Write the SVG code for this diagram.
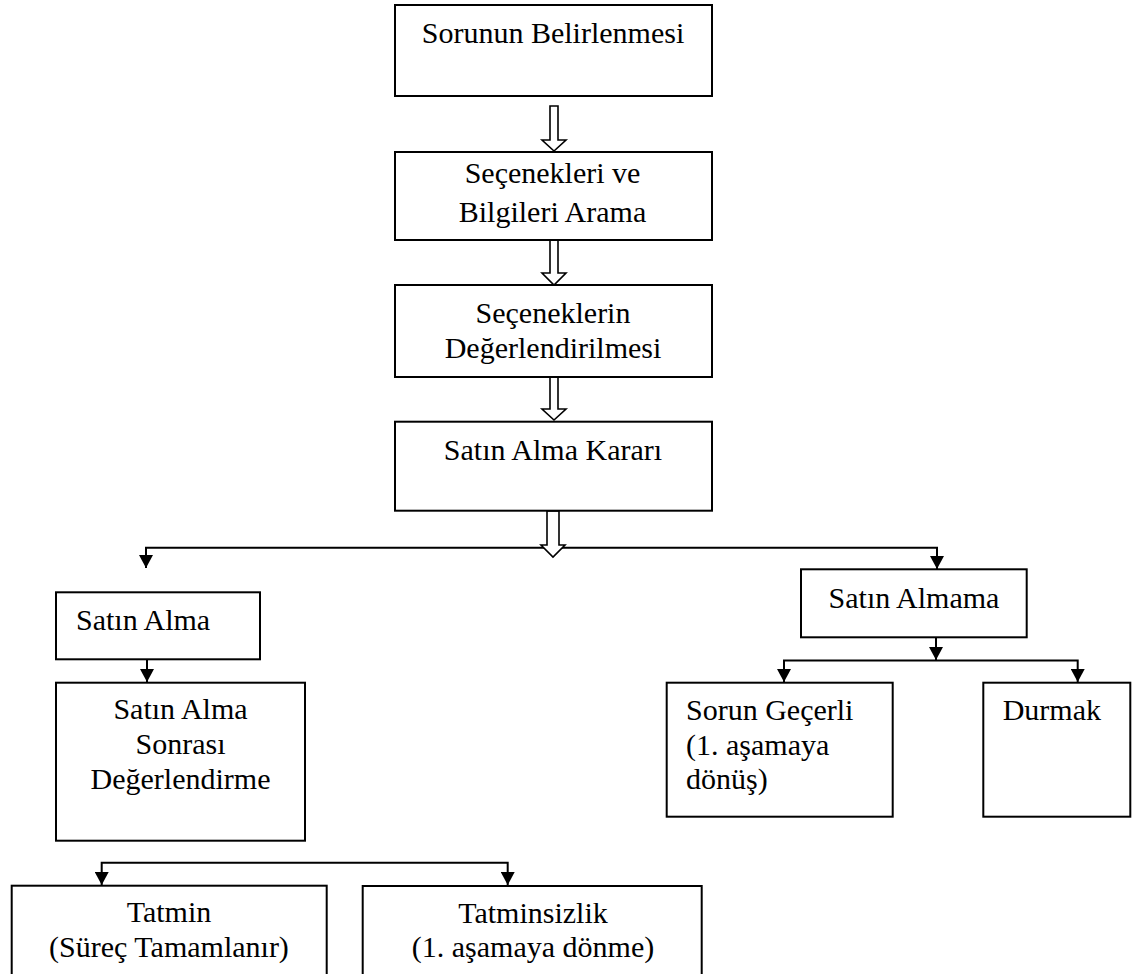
<svg xmlns="http://www.w3.org/2000/svg" width="1144" height="974" viewBox="0 0 1144 974">
  <style>
    .box { fill: #ffffff; stroke: #000000; stroke-width: 2; }
    .lbl { font-family: "Liberation Serif", "Times New Roman", serif; font-size: 30px; fill: #000000; }
    .mid { text-anchor: middle; }
    .wire { fill: none; stroke: #000000; stroke-width: 2; }
    .hollow { fill: #ffffff; stroke: #000000; stroke-width: 1.6; stroke-linejoin: miter; }
  </style>
  <defs>
    <marker id="tri" markerUnits="userSpaceOnUse" markerWidth="14" markerHeight="14" refX="13" refY="7" orient="auto">
      <path d="M0,0 L13,7 L0,14 Z" fill="#000000"/>
    </marker>
  </defs>
  <rect width="1144" height="974" fill="#ffffff"/>

  <!-- connectors -->
  <g id="connectors">
    <!-- main flow: hollow block arrows -->
    <polygon class="hollow" points="550,106 558,106 558,140 566,140 554,151 542,140 550,140"/>
    <polygon class="hollow" points="550,240 558,240 558,273 566,273 554,285 542,273 550,273"/>
    <polygon class="hollow" points="550,377 558,377 558,409 566,409 554,420 542,409 550,409"/>
    <!-- decision split -->
    <path class="wire" d="M553,547.7 H146 V568" marker-end="url(#tri)"/>
    <path class="wire" d="M553,547.7 H937 V569" marker-end="url(#tri)"/>
    <polygon class="hollow" points="547,511 559,511 559,545 565,545 553,557 541,545 547,545"/>
    <!-- purchase branch -->
    <path class="wire" d="M147,659 V682" marker-end="url(#tri)"/>
    <path class="wire" d="M304,862.7 H101.7 V885" marker-end="url(#tri)"/>
    <path class="wire" d="M304,862.7 H507.7 V885" marker-end="url(#tri)"/>
    <!-- no-purchase branch -->
    <path class="wire" d="M936,637 V660" marker-end="url(#tri)"/>
    <path class="wire" d="M936,660.5 H784 V682" marker-end="url(#tri)"/>
    <path class="wire" d="M936,660.5 H1077.7 V682" marker-end="url(#tri)"/>
  </g>

  <g id="sorunun-belirlenmesi">
    <rect class="box" x="395" y="5" width="317" height="91"/>
    <text class="lbl mid" x="553" y="43">Sorunun Belirlenmesi</text>
  </g>

  <g id="secenekleri-arama">
    <rect class="box" x="395" y="152" width="317" height="88"/>
    <text class="lbl mid" x="552.5" y="183">Seçenekleri ve</text>
    <text class="lbl mid" x="552.5" y="222">Bilgileri Arama</text>
  </g>

  <g id="seceneklerin-degerlendirilmesi">
    <rect class="box" x="395" y="285" width="317" height="92"/>
    <text class="lbl mid" x="553" y="323">Seçeneklerin</text>
    <text class="lbl mid" x="553" y="358">Değerlendirilmesi</text>
  </g>

  <g id="satin-alma-karari">
    <rect class="box" x="395" y="421.7" width="317" height="89"/>
    <text class="lbl mid" x="553" y="460">Satın Alma Kararı</text>
  </g>

  <g id="satin-alma">
    <rect class="box" x="56" y="592.3" width="204" height="67"/>
    <text class="lbl" x="76" y="630">Satın Alma</text>
  </g>

  <g id="satin-alma-sonrasi">
    <rect class="box" x="56" y="682.7" width="249" height="158"/>
    <text class="lbl mid" x="180.5" y="719.3">Satın Alma</text>
    <text class="lbl mid" x="180.5" y="754">Sonrası</text>
    <text class="lbl mid" x="180.5" y="789.3">Değerlendirme</text>
  </g>

  <g id="satin-almama">
    <rect class="box" x="801" y="569.3" width="225.7" height="68"/>
    <text class="lbl mid" x="914" y="607.7">Satın Almama</text>
  </g>

  <g id="sorun-gecerli">
    <rect class="box" x="666.7" y="682.7" width="226" height="134"/>
    <text class="lbl" x="686" y="720">Sorun Geçerli</text>
    <text class="lbl" x="686" y="755">(1. aşamaya</text>
    <text class="lbl" x="686" y="789.3">dönüş)</text>
  </g>

  <g id="durmak">
    <rect class="box" x="983.3" y="682.7" width="147" height="134"/>
    <text class="lbl" x="1002.7" y="720">Durmak</text>
  </g>

  <g id="tatmin">
    <rect class="box" x="11.7" y="885.7" width="315" height="100"/>
    <text class="lbl mid" x="169" y="921.7">Tatmin</text>
    <text class="lbl mid" x="169" y="956.7">(Süreç Tamamlanır)</text>
  </g>

  <g id="tatminsizlik">
    <rect class="box" x="362.7" y="886" width="339" height="100"/>
    <text class="lbl mid" x="533" y="922.7">Tatminsizlik</text>
    <text class="lbl mid" x="533" y="956.7">(1. aşamaya dönme)</text>
  </g>
</svg>
